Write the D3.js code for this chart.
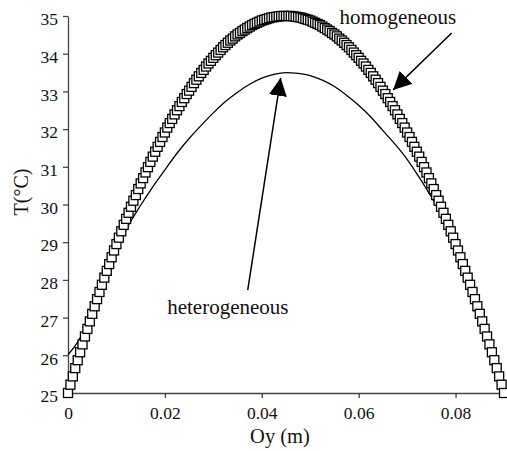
<html>
<head>
<script src="https://cdnjs.cloudflare.com/ajax/libs/d3/7.8.5/d3.min.js"></script>
<style>
  body { margin: 0; background: #fff; }
  svg text { font-family: "Liberation Serif", "Times New Roman", serif; fill: #111; }
  .axis path, .axis line { stroke: #444; stroke-width: 1.3px; }
  .het { fill: none; stroke: #000; stroke-width: 1.3px; }
  .sq { fill: #fff; stroke: #000; stroke-width: 1.3px; }
</style>
</head>
<body>
<svg width="507" height="451"></svg>
<script>
// homogeneous profile, sampled every 0.0005 m from 0 to 0.09 m
var homX = d3.range(181).map(function(i){ return +(i * 0.0005).toFixed(4); });
var homT = [
  25.00, 25.22, 25.44, 25.66, 25.87, 26.08, 26.29, 26.50, 26.70, 26.90,
  27.10, 27.30, 27.49, 27.68, 27.87, 28.06, 28.24, 28.42, 28.60, 28.78,
  28.95, 29.12, 29.29, 29.46, 29.62, 29.78, 29.94, 30.10, 30.25, 30.41,
  30.56, 30.70, 30.85, 30.99, 31.13, 31.27, 31.40, 31.53, 31.66, 31.79,
  31.91, 32.04, 32.16, 32.27, 32.39, 32.50, 32.61, 32.72, 32.82, 32.93,
  33.02, 33.12, 33.22, 33.31, 33.40, 33.49, 33.57, 33.66, 33.74, 33.81,
  33.89, 33.96, 34.03, 34.10, 34.17, 34.23, 34.29, 34.35, 34.40, 34.46,
  34.51, 34.55, 34.60, 34.64, 34.68, 34.72, 34.76, 34.79, 34.82, 34.85,
  34.88, 34.90, 34.92, 34.94, 34.96, 34.97, 34.98, 34.99, 35.00, 35.00,
  35.00,
  35.00, 35.00, 34.99, 34.98, 34.97, 34.96, 34.94, 34.92, 34.90, 34.88,
  34.85, 34.82, 34.79, 34.76, 34.72, 34.68, 34.64, 34.60, 34.55, 34.51,
  34.46, 34.40, 34.35, 34.29, 34.23, 34.17, 34.10, 34.03, 33.96, 33.89,
  33.81, 33.74, 33.66, 33.57, 33.49, 33.40, 33.31, 33.22, 33.12, 33.02,
  32.93, 32.82, 32.72, 32.61, 32.50, 32.39, 32.27, 32.16, 32.04, 31.91,
  31.79, 31.66, 31.53, 31.40, 31.27, 31.13, 30.99, 30.85, 30.70, 30.56,
  30.41, 30.25, 30.10, 29.94, 29.78, 29.62, 29.46, 29.29, 29.12, 28.95,
  28.78, 28.60, 28.42, 28.24, 28.06, 27.87, 27.68, 27.49, 27.30, 27.10,
  26.90, 26.70, 26.50, 26.29, 26.08, 25.87, 25.66, 25.44, 25.22, 25.00
];

// heterogeneous profile
var hetX = [0, 0.002, 0.004, 0.006, 0.008, 0.010, 0.0125, 0.015, 0.0175, 0.020,
  0.0225, 0.025, 0.0275, 0.030, 0.0325, 0.035, 0.0375, 0.040, 0.0425, 0.045,
  0.0475, 0.050, 0.0525, 0.055, 0.0575, 0.060, 0.0625, 0.065, 0.0675, 0.070,
  0.0725, 0.075, 0.0775, 0.080, 0.0825, 0.085, 0.0875, 0.090];
var hetT = [26.02, 26.35, 26.85, 27.55, 28.17, 28.78, 29.45, 29.98, 30.47, 30.92,
  31.36, 31.75, 32.10, 32.43, 32.73, 32.98, 33.19, 33.35, 33.45, 33.50,
  33.48, 33.42, 33.30, 33.13, 32.90, 32.63, 32.32, 31.96, 31.60, 31.20,
  30.72, 30.20, 29.62, 28.98, 28.10, 27.15, 26.10, 25.00];

var xTicks = [0, 0.02, 0.04, 0.06, 0.08];
var xTickLabels = ["0", "0.02", "0.04", "0.06", "0.08"];
var yTicks = [25, 26, 27, 28, 29, 30, 31, 32, 33, 34, 35];

// annotations: label, text anchor, arrow tail, arrow tip (data units)
var labels = ["homogeneous", "heterogeneous"];
var labelPos = [[0.0681, 34.79], [0.0330, 27.10]];
var arrowTail = [[0.0792, 34.55], [0.0371, 27.73]];
var arrowTip = [[0.0671, 33.04], [0.0439, 33.36]];

var svg = d3.select("svg");
var x = d3.scaleLinear().domain([0, 0.09]).range([68, 504]);
var y = d3.scaleLinear().domain([25, 35]).range([393, 16]);

svg.append("g").attr("class", "axis")
  .attr("transform", "translate(0,393)")
  .call(d3.axisBottom(x).tickValues(xTicks).tickSize(5).tickSizeOuter(0)
    .tickFormat(function(d, i){ return xTickLabels[i]; }))
  .call(function(g){
    g.selectAll("text").attr("font-size", 17.5).attr("dy", "1.05em").attr("fill", "#111");
  });

svg.append("g").attr("class", "axis")
  .attr("transform", "translate(68,0)")
  .call(d3.axisLeft(y).tickValues(yTicks).tickSize(5).tickSizeOuter(0))
  .call(function(g){
    g.selectAll("text").attr("font-size", 17.5).attr("x", -10).attr("dy", "0.5em").attr("fill", "#111");
  });
d3.selectAll(".axis").attr("font-family", null);

svg.append("text").attr("x", 280).attr("y", 443)
  .attr("text-anchor", "middle").attr("font-size", 20.5).text("Oy (m)");
svg.append("text").attr("transform", "translate(28,192) rotate(-90)")
  .attr("text-anchor", "middle").attr("font-size", 20).text("T(°C)");

var het = hetX.map(function(d, i){ return [d, hetT[i]]; });
svg.append("path").attr("class", "het")
  .attr("d", d3.line().x(function(d){ return x(d[0]); }).y(function(d){ return y(d[1]); })
    .curve(d3.curveMonotoneX)(het));

var hom = homX.map(function(d, i){ return [d, homT[i]]; });
var s = 9;
svg.append("g").selectAll("rect").data(hom).enter().append("rect")
  .attr("class", "sq")
  .attr("x", function(d){ return x(d[0]) - s / 2; })
  .attr("y", function(d){ return y(d[1]) - s / 2; })
  .attr("width", s).attr("height", s);

// arrows with filled triangular heads
svg.append("defs").append("marker")
  .attr("id", "head").attr("viewBox", "0 0 10 10")
  .attr("refX", 10).attr("refY", 5)
  .attr("markerUnits", "userSpaceOnUse")
  .attr("markerWidth", 18).attr("markerHeight", 18)
  .attr("orient", "auto")
  .append("path").attr("d", "M0,0 L10,5 L0,10 Z").attr("fill", "#000");

labels.forEach(function(t, i){
  svg.append("line")
    .attr("x1", x(arrowTail[i][0])).attr("y1", y(arrowTail[i][1]))
    .attr("x2", x(arrowTip[i][0])).attr("y2", y(arrowTip[i][1]))
    .attr("stroke", "#000").attr("stroke-width", 1.5)
    .attr("marker-end", "url(#head)");
  svg.append("text")
    .attr("x", x(labelPos[i][0])).attr("y", y(labelPos[i][1]))
    .attr("text-anchor", "middle").attr("font-size", 21).text(t);
});
</script>
</body>
</html>
